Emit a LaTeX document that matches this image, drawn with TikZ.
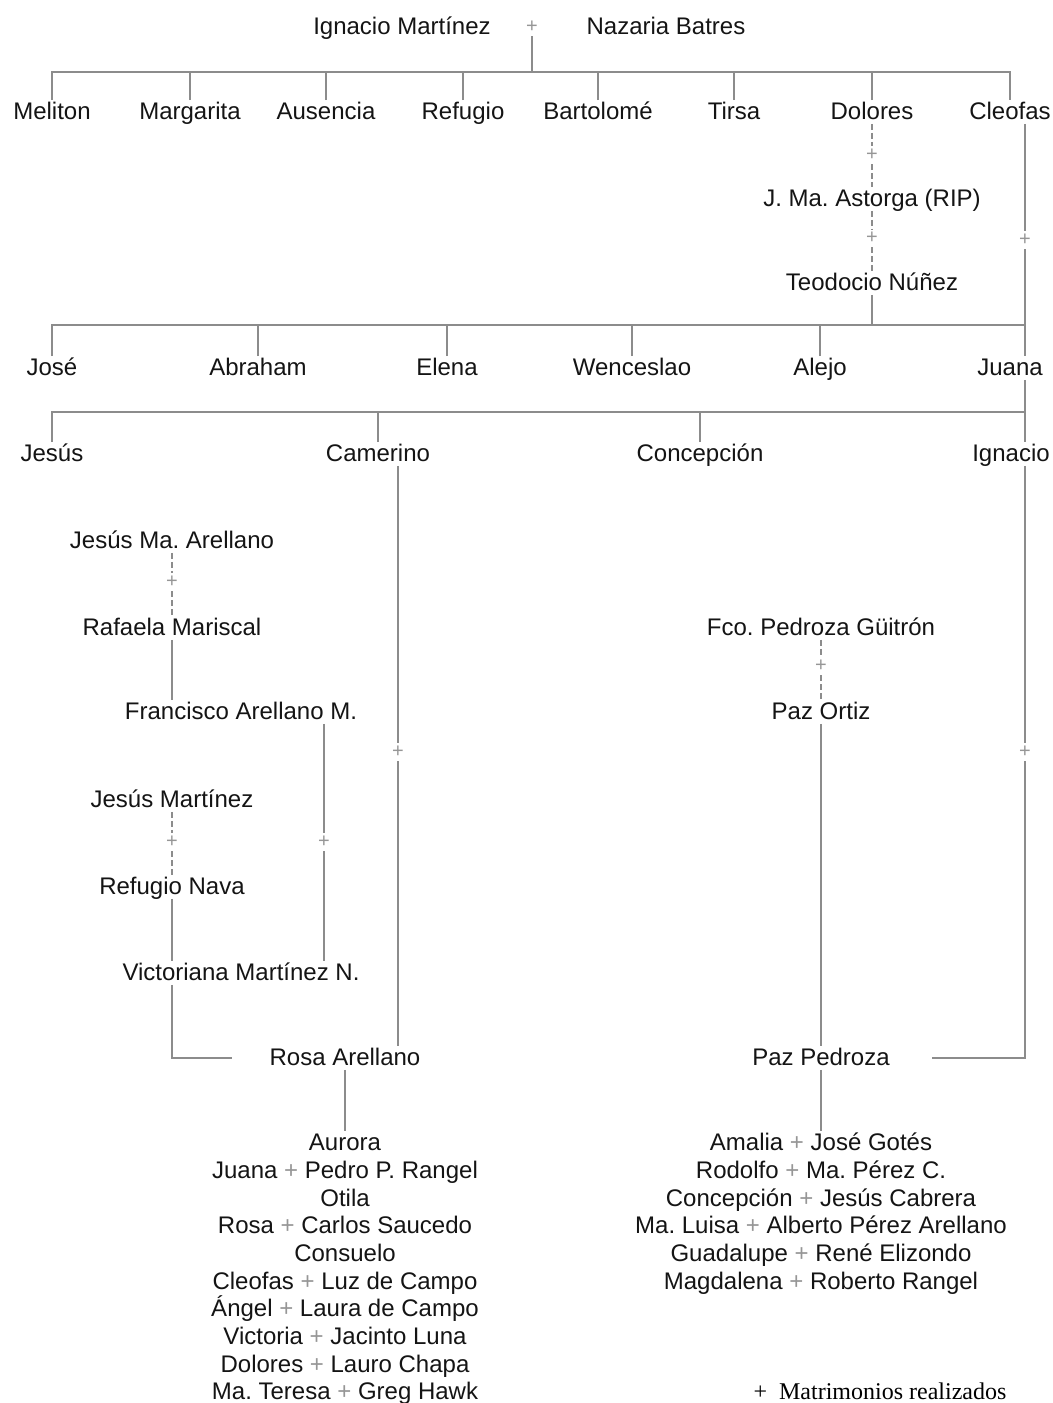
\documentclass[tikz,border=0pt]{standalone}
\usepackage{fontspec}
\setmainfont{Liberation Sans}
\newfontfamily\legendfont{Liberation Serif}
\usepackage{tikz}
\usetikzlibrary{calc}
\usepackage{xcolor}
\frenchspacing
\definecolor{linegray}{RGB}{140,140,140}
\definecolor{wedgray}{RGB}{150,150,150}
\definecolor{textblk}{RGB}{20,20,20}
\newcommand{\wed}{\textcolor{wedgray}{+}}
\tikzset{
  % Personas
  person/.style  = {font=\fontsize{12}{14}\selectfont, text=textblk,
                    inner sep=1pt, text height=8.6pt, text depth=0.8pt},
  % Signo de matrimonio
  wedmark/.style = {font=\fontsize{10}{12}\selectfont, text=wedgray, inner sep=1.5pt},
  % Lineas de descendencia
  link/.style    = {draw=linegray, line width=1pt},
  % Lineas de matrimonio
  wedline/.style = {draw=linegray, line width=0.8pt, dash pattern=on 3pt off 1.5pt},
  % Leyenda
  legend/.style  = {font=\legendfont\fontsize{12}{14}\selectfont, inner sep=1pt},
}

\begin{document}
\begin{tikzpicture}[x=0.5pt, y=-0.5pt]
  \useasboundingbox (0,0) rectangle (1053,1403);

  % Ejes de las barras y columnas
  \coordinate (bar1) at (0,72);
  \coordinate (bar2) at (0,325);
  \coordinate (bar3) at (0,412);
  \coordinate (rcol) at (1025,0);
  \coordinate (ccol) at (398,0);
  \coordinate (fcol) at (324,0);

  % Primera generacion
  \node[person] (ignacio) at (402,27) {Ignacio Martínez};
  \node[wedmark] (wtop) at (532,27) {+};
  \node[person] (nazaria) at (666,27) {Nazaria Batres};

  \node[person] (meliton)   at (52,112)  {Meliton};
  \node[person] (margarita) at (190,112) {Margarita};
  \node[person] (ausencia)  at (326,112) {Ausencia};
  \node[person] (refugio)   at (463,112) {Refugio};
  \node[person] (bartolome) at (598,112) {Bartolomé};
  \node[person] (tirsa)     at (734,112) {Tirsa};
  \node[person] (dolores)   at (872,112) {Dolores};
  \node[person] (cleofas)   at (1010,112) {Cleofas};

  \draw[link] (wtop.south) -- (wtop.south |- bar1);
  \draw[link] (meliton.north) -- (meliton.north |- bar1)
    -- (cleofas.north |- bar1) -- (cleofas.north);
  \foreach \n in {margarita,ausencia,refugio,bartolome,tirsa,dolores}
    \draw[link] (\n.north) -- (\n.north |- bar1);

  % Dolores y sus matrimonios
  \node[wedmark] (wdol1) at (872,155) {+};
  \node[person] (astorga) at (872,199) {J. Ma. Astorga (RIP)};
  \node[wedmark] (wdol2) at (872,238) {+};
  \node[person] (teodocio) at (872,283) {Teodocio Núñez};
  \draw[wedline] (dolores.south) -- (wdol1.north);
  \draw[wedline] (wdol1.south) -- (astorga.north);
  \draw[wedline] (astorga.south) -- (wdol2.north);
  \draw[wedline] (wdol2.south) -- (teodocio.north);
  \draw[link] (teodocio.south) -- (teodocio.south |- bar2);

  % Segunda generacion
  \node[person] (jose)      at (52,368)  {José};
  \node[person] (abraham)   at (258,368) {Abraham};
  \node[person] (elena)     at (447,368) {Elena};
  \node[person] (wenceslao) at (632,368) {Wenceslao};
  \node[person] (alejo)     at (820,368) {Alejo};
  \node[person] (juana)     at (1010,368) {Juana};

  \node[wedmark] (wcle) at (1025,240) {+};
  \draw[link] (cleofas.south -| rcol) -- (wcle.north);
  \draw[link] (wcle.south) -- (juana.north -| rcol);
  \draw[link] (jose.north) -- (jose.north |- bar2) -- (bar2 -| rcol);
  \foreach \n in {abraham,elena,wenceslao,alejo}
    \draw[link] (\n.north) -- (\n.north |- bar2);

  % Tercera generacion
  \node[person] (jesus)      at (52,454)   {Jesús};
  \node[person] (camerino)   at (378,454)  {Camerino};
  \node[person] (concepcion) at (700,454)  {Concepción};
  \node[person] (ignaciob)   at (1011,454) {Ignacio};

  \draw[link] (juana.south -| rcol) -- (ignaciob.north -| rcol);
  \draw[link] (jesus.north) -- (jesus.north |- bar3) -- (bar3 -| rcol);
  \foreach \n in {camerino,concepcion}
    \draw[link] (\n.north) -- (\n.north |- bar3);

  % Familia Arellano
  \node[person] (jesusma)  at (172,541) {Jesús Ma. Arellano};
  \node[wedmark] (wjma) at (172,582) {+};
  \node[person] (rafaela)  at (172,628) {Rafaela Mariscal};
  \node[person] (francisco) at (241,712) {Francisco Arellano M.};
  \draw[wedline] (jesusma.south) -- (wjma.north);
  \draw[wedline] (wjma.south) -- (rafaela.north);
  \draw[link] (rafaela.south) -- (rafaela.south |- francisco.north);

  % Familia Martinez Nava
  \node[person] (jesusmtz) at (172,800) {Jesús Martínez};
  \node[wedmark] (wjmz) at (172,842) {+};
  \node[person] (nava)     at (172,887) {Refugio Nava};
  \node[person] (victoriana) at (241,973) {Victoriana Martínez N.};
  \draw[wedline] (jesusmtz.south) -- (wjmz.north);
  \draw[wedline] (wjmz.south) -- (nava.north);
  \draw[link] (nava.south) -- (nava.south |- victoriana.north);

  \node[wedmark] (wfra) at (324,842) {+};
  \draw[link] (francisco.south -| fcol) -- (wfra.north);
  \draw[link] (wfra.south) -- (victoriana.north -| fcol);

  % Rosa Arellano
  \node[person] (rosa) at (345,1058) {Rosa Arellano};
  \coordinate (rosaL) at ([xshift=-17.5pt]rosa.west);
  \draw[link] (victoriana.south -| nava.south) |- (rosaL);

  \node[wedmark] (wcam) at (398,752) {+};
  \draw[link] (camerino.south -| ccol) -- (wcam.north);
  \draw[link] (wcam.south) -- (rosa.north -| ccol);

  \foreach \t [count=\i] in {Aurora, Juana \wed{} Pedro P. Rangel, Otila,
      Rosa \wed{} Carlos Saucedo, Consuelo, Cleofas \wed{} Luz de Campo,
      Ángel \wed{} Laura de Campo, Victoria \wed{} Jacinto Luna,
      Dolores \wed{} Lauro Chapa, Ma. Teresa \wed{} Greg Hawk}
    \node[person] (rc\i) at (345,{1143+27.67*(\i-1)}) {\t};
  \draw[link] (rosa.south) -- (rc1.north);

  % Familia Pedroza
  \node[person] (fco) at (821,628) {Fco. Pedroza Güitrón};
  \node[wedmark] (wfco) at (821,666) {+};
  \node[person] (pazortiz) at (821,712) {Paz Ortiz};
  \node[person] (pazpedroza) at (821,1058) {Paz Pedroza};
  \draw[wedline] (fco.south) -- (wfco.north);
  \draw[wedline] (wfco.south) -- (pazortiz.north);
  \draw[link] (pazortiz.south) -- (pazpedroza.north);

  \node[wedmark] (wign) at (1025,752) {+};
  \coordinate (pazR) at ([xshift=20pt]pazpedroza.east);
  \draw[link] (ignaciob.south -| rcol) -- (wign.north);
  \draw[link] (wign.south) -- (pazR -| rcol) -- (pazR);

  \foreach \t [count=\i] in {Amalia \wed{} José Gotés, Rodolfo \wed{} Ma. Pérez C.,
      Concepción \wed{} Jesús Cabrera, Ma. Luisa \wed{} Alberto Pérez Arellano,
      Guadalupe \wed{} René Elizondo, Magdalena \wed{} Roberto Rangel}
    \node[person] (pc\i) at (821,{1143+27.67*(\i-1)}) {\t};
  \draw[link] (pazpedroza.south) -- (pc1.north);

  % Leyenda
  \node[legend] (leyenda) at (880,1391) {+\enspace Matrimonios realizados};
\end{tikzpicture}
\end{document}
